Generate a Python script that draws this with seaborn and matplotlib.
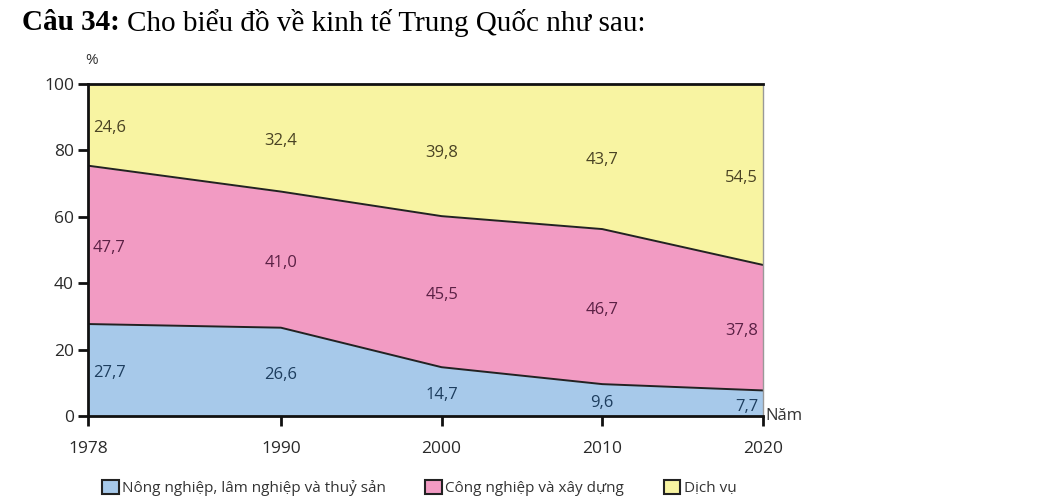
import numpy as np
import matplotlib
matplotlib.use('Agg')
import matplotlib.pyplot as plt
import matplotlib.patches as mpatches
import seaborn as sns
import pandas as pd

# Dữ liệu: cơ cấu GDP Trung Quốc (%)
nam = [1978, 1990, 2000, 2010, 2020]
nong_nghiep = [27.7, 26.6, 14.7, 9.6, 7.7]
cong_nghiep = [47.7, 41.0, 45.5, 46.7, 37.8]
dich_vu = [24.6, 32.4, 39.8, 43.7, 54.5]
ten_nganh = ['Nông nghiệp, lâm nghiệp và thuỷ sản', 'Công nghiệp và xây dựng', 'Dịch vụ']

mau_nen = ['#a7c9ea', '#f29bc3', '#f8f4a2']
mau_chu = ['#1d3d5e', '#5b2145', '#4a4324']

sns.set_theme(style='white')
plt.rcParams['font.family'] = ['Open Sans', 'DejaVu Sans']

fig = plt.figure(figsize=(10.43, 5.03), dpi=100)
ax = fig.add_axes([88 / 1043, 87 / 503, 675 / 1043, 332 / 503])

# Miền chồng
ax.stackplot(nam, nong_nghiep, cong_nghiep, dich_vu, colors=mau_nen, linewidth=0)

# Đường ranh giới giữa các miền
df = pd.DataFrame({'nam': nam,
                   'm1': np.array(nong_nghiep),
                   'm2': np.array(nong_nghiep) + np.array(cong_nghiep)})
sns.lineplot(data=df, x='nam', y='m1', ax=ax, color='#222222', linewidth=1.4)
sns.lineplot(data=df, x='nam', y='m2', ax=ax, color='#222222', linewidth=1.4)

# Nhãn số liệu (dấu phẩy thập phân)
duoi = np.zeros(len(nam))
for gia_tri, mau in zip([nong_nghiep, cong_nghiep, dich_vu], mau_chu):
    gia_tri = np.array(gia_tri)
    giua = duoi + gia_tri / 2 - 1.0
    for i, n in enumerate(nam):
        if i == 0:
            x, ha = n + 0.3, 'left'
        elif i == len(nam) - 1:
            x, ha = n - 0.3, 'right'
        else:
            x, ha = n, 'center'
        ax.text(x, giua[i], f'{gia_tri[i]:.1f}'.replace('.', ','), ha=ha, va='center',
                fontsize=12, color=mau)
    duoi = duoi + gia_tri

ax.set_xlim(1978, 2020)
ax.set_ylim(0, 100)
ax.set_xticks(nam)
ax.set_yticks([0, 20, 40, 60, 80, 100])
ax.set_xlabel('')
ax.set_ylabel('')
ax.tick_params(axis='both', which='both', direction='out', length=7, width=2,
               color='#111111', labelsize=12.5, labelcolor='#2a2a2a')
ax.tick_params(axis='x', pad=11)
ax.tick_params(axis='y', pad=3)
ax.xaxis.set_ticks_position('bottom')
ax.yaxis.set_ticks_position('left')

for s in ['left', 'bottom', 'top']:
    ax.spines[s].set_color('#111111')
    ax.spines[s].set_linewidth(2)
ax.spines['right'].set_color('#999999')
ax.spines['right'].set_linewidth(1)

ax.text(-0.004, 1.07, '%', transform=ax.transAxes, ha='left', va='center',
        fontsize=11, color='#333333')
ax.text(1.003, 0.0, 'Năm', transform=ax.transAxes, ha='left', va='center',
        fontsize=12, color='#333333')

# Tiêu đề
r = fig.canvas.get_renderer()
t1 = fig.text(22 / 1043, 1 - 23 / 503, 'Câu 34:', fontsize=21, fontweight='bold',
              family='Liberation Serif', va='center', ha='left', color='black')
bb = t1.get_window_extent(renderer=r)
fig.text((bb.x1 + 7) / 1043, 1 - 23 / 503, 'Cho biểu đồ về kinh tế Trung Quốc như sau:',
         fontsize=21, family='Liberation Serif', va='center', ha='left', color='black')

# Chú giải
handles = [mpatches.Patch(facecolor=c, edgecolor='#222222', linewidth=1.5) for c in mau_nen]
fig.legend(handles, ten_nganh, loc='center left', bbox_to_anchor=(88 / 1043, 1 - 488 / 503),
           ncol=3, frameon=False, fontsize=11, handlelength=1.1, handleheight=1.1,
           handletextpad=0.2, columnspacing=2.6, labelcolor='#333333')

fig.savefig('out.png', dpi=100)
